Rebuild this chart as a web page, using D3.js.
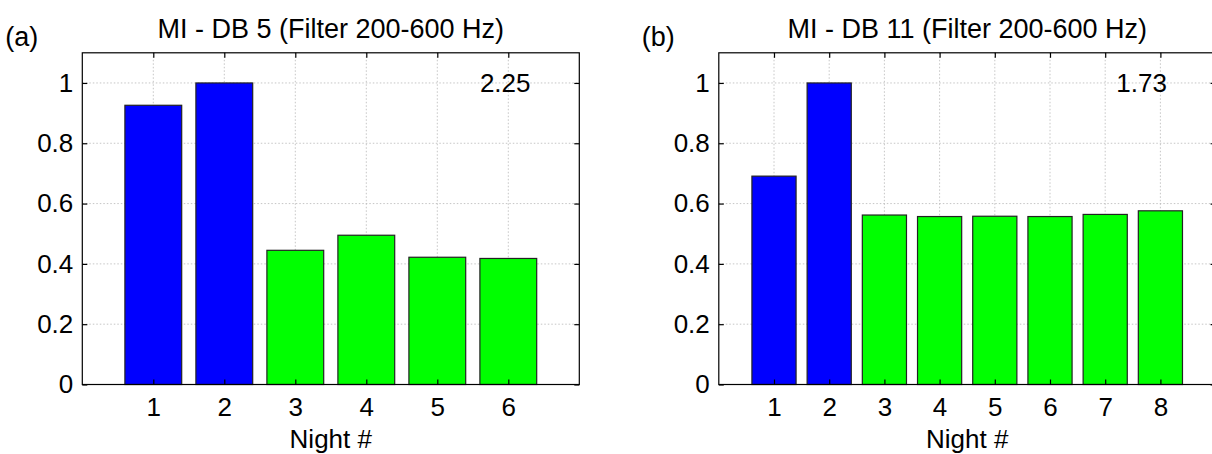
<!DOCTYPE html>
<html>
<head>
<meta charset="utf-8">
<script src="https://cdn.jsdelivr.net/npm/d3@7"></script>
<style>
  body { margin: 0; background: #fff; }
  svg text { font-family: "Liberation Sans", Arial, sans-serif; fill: #000; }
</style>
</head>
<body>
<script>
// data
var nightsA = [1, 2, 3, 4, 5, 6];
var valuesA = [0.926, 1.0, 0.445, 0.495, 0.422, 0.418];
var groupA  = ["first", "first", "rest", "rest", "rest", "rest"];

var nightsB = [1, 2, 3, 4, 5, 6, 7, 8];
var valuesB = [0.691, 1.0, 0.562, 0.557, 0.558, 0.557, 0.564, 0.576];
var groupB  = ["first", "first", "rest", "rest", "rest", "rest", "rest", "rest"];

var yTicks = [0, 0.2, 0.4, 0.6, 0.8, 1];
var yTickLabels = ["0", "0.2", "0.4", "0.6", "0.8", "1"];

var titleA = "MI - DB 5 (Filter 200-600 Hz)";
var titleB = "MI - DB 11 (Filter 200-600 Hz)";
var noteA = "2.25";
var noteB = "1.73";
var xLabel = "Night #";

var barColor = { first: "#0000ff", rest: "#00ff00" };

var svg = d3.select("body").append("svg")
    .attr("width", 1212)
    .attr("height", 454)
    .attr("viewBox", "0 0 1212 454");

function drawPanel(left, right, tag, title, note, nights, values, groups) {
    var top = 52.8, bottom = 384.5, tick = 5;

    var x = d3.scaleLinear().domain([0, nights.length + 1]).range([left, right]);
    var y = d3.scaleLinear().domain([0, 1.1]).range([bottom, top]);

    var g = svg.append("g");

    // grid
    g.selectAll(".gx").data(nights).enter().append("line")
        .attr("x1", function(d){return x(d);}).attr("x2", function(d){return x(d);})
        .attr("y1", top).attr("y2", bottom)
        .attr("stroke", "#b8b8b8").attr("stroke-width", 0.8)
        .attr("stroke-dasharray", "1.5,2");
    g.selectAll(".gy").data(yTicks.slice(1)).enter().append("line")
        .attr("x1", left).attr("x2", right)
        .attr("y1", function(d){return y(d);}).attr("y2", function(d){return y(d);})
        .attr("stroke", "#b8b8b8").attr("stroke-width", 0.8)
        .attr("stroke-dasharray", "1.5,2");

    // bars
    g.selectAll(".bar").data(values).enter().append("rect")
        .attr("x", function(d, i){return x(nights[i] - 0.4);})
        .attr("width", x(0.8) - x(0))
        .attr("y", function(d){return y(d);})
        .attr("height", function(d){return y(0) - y(d);})
        .attr("fill", function(d, i){return barColor[groups[i]];})
        .attr("stroke", "#222").attr("stroke-width", 1.2);

    // box
    g.append("rect")
        .attr("x", left).attr("y", top)
        .attr("width", right - left).attr("height", bottom - top)
        .attr("fill", "none").attr("stroke", "#000").attr("stroke-width", 1.2);

    // inward ticks on every side
    var xAxisB = d3.axisBottom(x).tickValues(nights).tickSize(-tick).tickPadding(13)
        .tickFormat(d3.format("d"));
    var xAxisT = d3.axisTop(x).tickValues(nights).tickSize(-tick).tickFormat("");
    var yAxisL = d3.axisLeft(y).tickValues(yTicks).tickSize(-tick).tickPadding(9)
        .tickFormat(function(d, i){return yTickLabels[i];});
    var yAxisR = d3.axisRight(y).tickValues(yTicks).tickSize(-tick).tickFormat("");

    [[xAxisB, "translate(0," + bottom + ")"], [xAxisT, "translate(0," + top + ")"],
     [yAxisL, "translate(" + left + ",0)"], [yAxisR, "translate(" + right + ",0)"]]
    .forEach(function(a) {
        var ax = g.append("g").attr("transform", a[1]).call(a[0]);
        ax.select(".domain").remove();
        ax.selectAll("line").attr("stroke", "#000").attr("stroke-width", 1.2);
        ax.selectAll("text").style("font-size", "26px")
            .style("font-family", "'Liberation Sans', Arial, sans-serif");
    });

    // texts
    g.append("text").attr("x", (left + right) / 2).attr("y", 38)
        .attr("text-anchor", "middle").style("font-size", "27px").text(title);
    g.append("text").attr("x", left - 77).attr("y", 46)
        .style("font-size", "27px").text(tag);
    g.append("text").attr("x", (left + right) / 2).attr("y", 448)
        .attr("text-anchor", "middle").style("font-size", "26px").text(xLabel);
    g.append("text").attr("x", x(0.8 * (nights.length + 1))).attr("y", y(1))
        .attr("dy", "0.35em").style("font-size", "26px").text(note);
}

drawPanel(82.3, 579.3, "(a)", titleA, noteA, nightsA, valuesA, groupA);
drawPanel(718.8, 1215.6, "(b)", titleB, noteB, nightsB, valuesB, groupB);
</script>
</body>
</html>
